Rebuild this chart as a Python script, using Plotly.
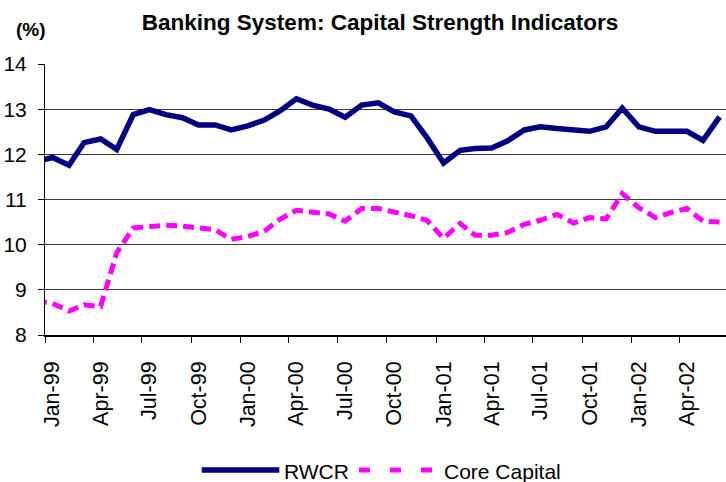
import pandas as pd
import plotly.graph_objects as go

# Month-end observations, Dec-98 .. Jun-02 (plotted at mid-month)
months = pd.date_range("1998-12-01", "2002-06-01", freq="MS") + pd.Timedelta(days=14)

rwcr = [11.84, 11.93, 11.76, 12.26, 12.34, 12.11, 12.88, 12.99, 12.88, 12.81,
        12.65, 12.65, 12.54, 12.63, 12.76, 12.96, 13.23, 13.09, 13.00, 12.82,
        13.09, 13.14, 12.94, 12.85, 12.37, 11.81, 12.09, 12.13, 12.14, 12.30,
        12.54, 12.61, 12.57, 12.54, 12.51, 12.61, 13.02, 12.61, 12.51, 12.51,
        12.51, 12.31, 12.83]

core_capital = [8.76, 8.70, 8.53, 8.67, 8.63, 9.82, 10.37, 10.41, 10.43, 10.41,
                10.37, 10.33, 10.12, 10.18, 10.30, 10.56, 10.76, 10.71, 10.68, 10.52,
                10.80, 10.80, 10.73, 10.64, 10.54, 10.14, 10.47, 10.21, 10.21, 10.27,
                10.45, 10.54, 10.67, 10.48, 10.60, 10.57, 11.13, 10.82, 10.60, 10.71,
                10.80, 10.52, 10.50]

tick_labels = ["Jan-99", "Apr-99", "Jul-99", "Oct-99", "Jan-00", "Apr-00", "Jul-00",
               "Oct-00", "Jan-01", "Apr-01", "Jul-01", "Oct-01", "Jan-02", "Apr-02"]
tick_dates = [(pd.to_datetime(t, format="%b-%y") + pd.Timedelta(days=14)).strftime("%Y-%m-%d")
              for t in tick_labels]

NAVY = "#000080"
MAGENTA = "#FF00FF"
FONT = "Liberation Sans, Arial, sans-serif"

W, H = 726, 482
L, R, T, B = 45, 0, 64, 147
PW, PH = W - L - R, H - T - B


def px(x):
    return (x - L) / PW


def py(y):
    return (H - B - y) / PH


fig = go.Figure()
fig.add_trace(go.Scatter(x=months, y=rwcr, mode="lines", name="RWCR",
                         line=dict(color=NAVY, width=5.5), showlegend=False))
fig.add_trace(go.Scatter(x=months, y=core_capital, mode="lines", name="Core Capital",
                         line=dict(color=MAGENTA, width=5, dash="11px,6px"),
                         showlegend=False))

fig.update_layout(
    width=W, height=H,
    margin=dict(l=L, r=R, t=T, b=B),
    paper_bgcolor="white", plot_bgcolor="white",
    font=dict(family=FONT, color="black", size=21),
    title=dict(text="<b>Banking System: Capital Strength Indicators</b>",
               font=dict(size=22.5, family=FONT, color="black"),
               x=380 / W, xanchor="center", xref="container",
               y=1 - 22 / H, yanchor="middle", yref="container"),
    xaxis=dict(type="date", range=["1999-01-01", "2002-06-27"],
               tickmode="array", tickvals=tick_dates, ticktext=tick_labels,
               tickangle=-90,
               ticks="", ticklabelstandoff=16,
               showgrid=False, zeroline=False,
               showline=True, linecolor="black", linewidth=1.5,
               tickfont=dict(size=21.5, family=FONT, color="black"),
               minor=dict(ticks="outside", ticklen=6, tickcolor="black",
                          tickwidth=1, dtick="M3", tick0="1999-01-01",
                          showgrid=False)),
    yaxis=dict(range=[8, 14], dtick=1, tick0=8,
               showgrid=True, gridcolor="#3a3a3a", gridwidth=1,
               zeroline=False, showline=True, linecolor="black", linewidth=1,
               ticks="outside", ticklen=6, tickcolor="black",
               ticklabelstandoff=7, tickfont=dict(size=21, family=FONT)),
    annotations=[
        dict(text="<b>(%)</b>", x=px(31), y=py(30), xref="paper", yref="paper",
             xanchor="center", yanchor="middle", showarrow=False,
             font=dict(size=19, family=FONT)),
        dict(text="RWCR", x=px(282), y=py(471.5), xref="paper", yref="paper",
             xanchor="left", yanchor="middle", showarrow=False,
             font=dict(size=21, family=FONT)),
        dict(text="Core Capital", x=px(441.5), y=py(471.5), xref="paper", yref="paper",
             xanchor="left", yanchor="middle", showarrow=False,
             font=dict(size=21, family=FONT)),
    ],
    shapes=[
        dict(type="line", xref="paper", yref="paper",
             x0=px(201.7), x1=px(279.3), y0=py(470), y1=py(470),
             line=dict(color=NAVY, width=5.5)),
        dict(type="line", xref="paper", yref="paper",
             x0=px(359), x1=px(432), y0=py(470), y1=py(470),
             line=dict(color=MAGENTA, width=5, dash="11px,20px")),
    ],
)

fig.write_html("out.html")
